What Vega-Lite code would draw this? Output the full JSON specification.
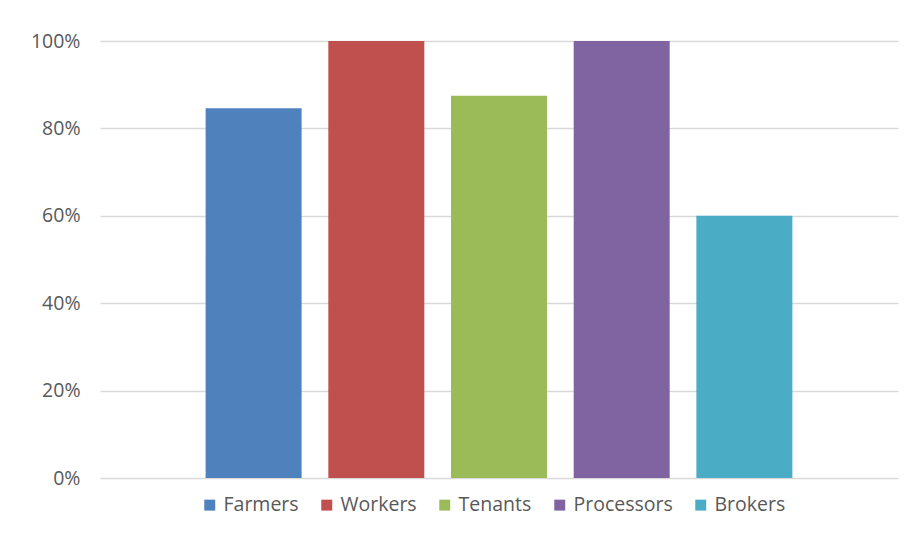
{
  "$schema": "https://vega.github.io/schema/vega-lite/v6.json",
  "width": 798,
  "height": 437,
  "autosize": "none",
  "padding": {"left": 100, "top": 41, "right": 14, "bottom": 77},
  "background": "white",
  "data": {
    "values": [
      {"group": "Farmers", "share": 0.846},
      {"group": "Workers", "share": 1.0},
      {"group": "Tenants", "share": 0.875},
      {"group": "Processors", "share": 1.0},
      {"group": "Brokers", "share": 0.6}
    ]
  },
  "mark": {"type": "bar"},
  "encoding": {
    "x": {
      "field": "group",
      "type": "nominal",
      "sort": ["Farmers", "Workers", "Tenants", "Processors", "Brokers"],
      "scale": {"paddingInner": 0.2176, "paddingOuter": 0.861},
      "axis": null
    },
    "y": {
      "field": "share",
      "type": "quantitative",
      "scale": {"domain": [0, 1], "nice": false},
      "axis": {
        "title": null,
        "values": [0, 0.2, 0.4, 0.6, 0.8, 1.0],
        "format": ".0%",
        "domain": false,
        "ticks": false,
        "labelPadding": 20,
        "labelFont": "Open Sans",
        "labelFontSize": 19.5,
        "labelColor": "#595959",
        "gridColor": "#d9d9d9",
        "gridWidth": 1.5
      }
    },
    "color": {
      "field": "group",
      "type": "nominal",
      "sort": ["Farmers", "Workers", "Tenants", "Processors", "Brokers"],
      "scale": {
        "domain": ["Farmers", "Workers", "Tenants", "Processors", "Brokers"],
        "range": ["#4F81BD", "#C0504D", "#9BBB59", "#8064A2", "#4BACC6"]
      },
      "legend": {
        "title": null,
        "orient": "none",
        "direction": "horizontal",
        "legendX": 100,
        "legendY": 454,
        "symbolType": "square",
        "symbolSize": 120,
        "symbolStrokeWidth": 0,
        "symbolOpacity": 1,
        "labelFont": "Open Sans",
        "labelFontSize": 19.5,
        "labelColor": "#595959",
        "labelOffset": 4,
        "columnPadding": 18
      }
    }
  },
  "config": {"view": {"stroke": null}}
}
